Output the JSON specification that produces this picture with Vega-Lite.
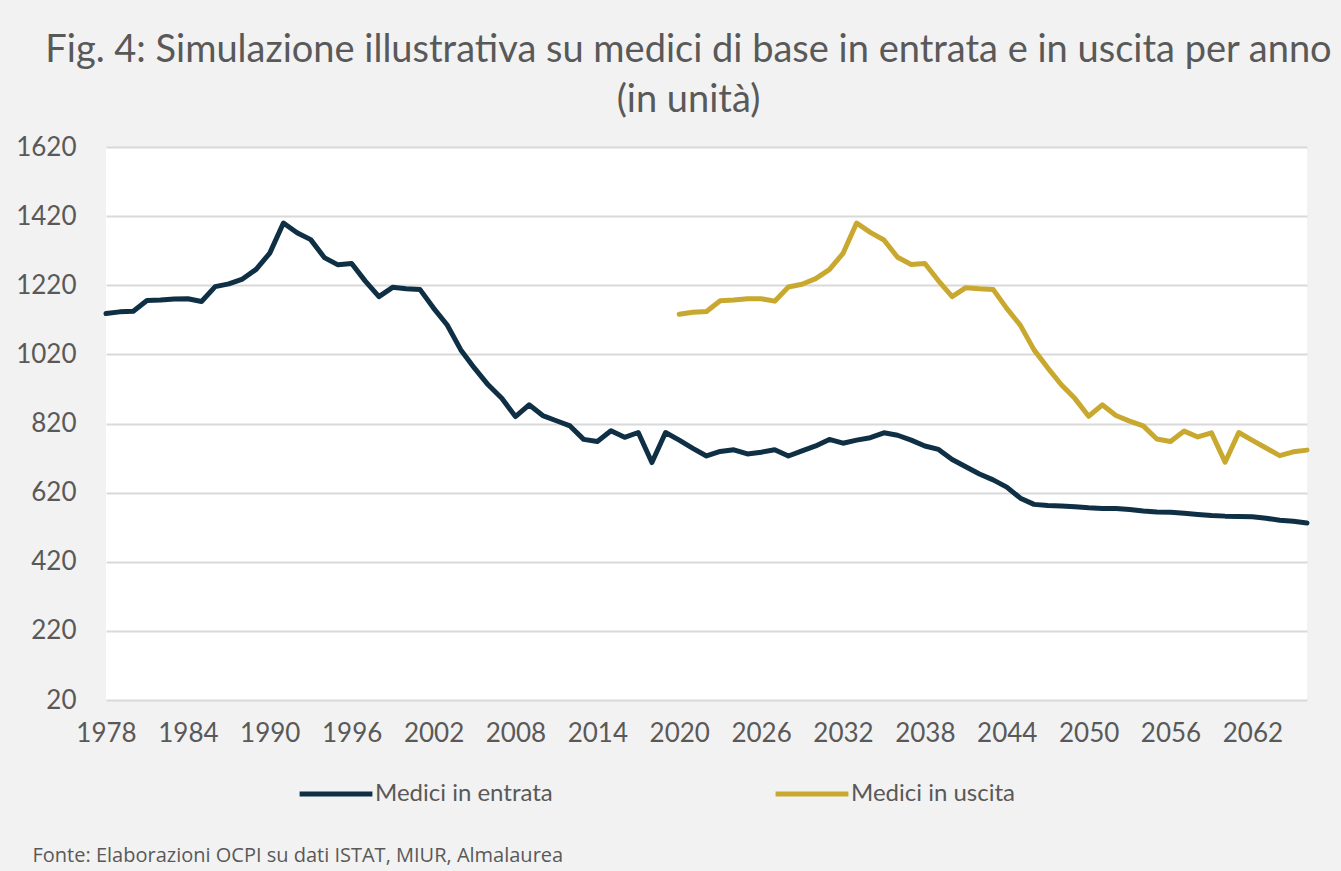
{
  "$schema": "https://vega.github.io/schema/vega-lite/v6.json",
  "width": 1201,
  "height": 553,
  "autosize": {"type": "none"},
  "padding": {"left": 106, "top": 147, "right": 34, "bottom": 171},
  "background": "#f2f2f2",
  "config": {
    "view": {"fill": "#ffffff", "stroke": null},
    "font": "Lato"
  },
  "title": {
    "text": "Fig. 4: Simulazione illustrativa su medici di base in entrata e in uscita per anno",
    "subtitle": "(in unità)",
    "anchor": "middle",
    "dx": -18,
    "offset": 14,
    "font": "Lato",
    "fontSize": 38,
    "fontWeight": "normal",
    "color": "#595959",
    "subtitleFont": "Lato",
    "subtitleFontSize": 38,
    "subtitleColor": "#595959",
    "subtitlePadding": 12
  },
  "datasets": {
    "rows": [
      {"year": 1978, "serie": "Medici in entrata", "value": 1138},
      {"year": 1979, "serie": "Medici in entrata", "value": 1143},
      {"year": 1980, "serie": "Medici in entrata", "value": 1145},
      {"year": 1981, "serie": "Medici in entrata", "value": 1176},
      {"year": 1982, "serie": "Medici in entrata", "value": 1177},
      {"year": 1983, "serie": "Medici in entrata", "value": 1180},
      {"year": 1984, "serie": "Medici in entrata", "value": 1181},
      {"year": 1985, "serie": "Medici in entrata", "value": 1173},
      {"year": 1986, "serie": "Medici in entrata", "value": 1216},
      {"year": 1987, "serie": "Medici in entrata", "value": 1224},
      {"year": 1988, "serie": "Medici in entrata", "value": 1238},
      {"year": 1989, "serie": "Medici in entrata", "value": 1266},
      {"year": 1990, "serie": "Medici in entrata", "value": 1313},
      {"year": 1991, "serie": "Medici in entrata", "value": 1400},
      {"year": 1992, "serie": "Medici in entrata", "value": 1372},
      {"year": 1993, "serie": "Medici in entrata", "value": 1352},
      {"year": 1994, "serie": "Medici in entrata", "value": 1300},
      {"year": 1995, "serie": "Medici in entrata", "value": 1279},
      {"year": 1996, "serie": "Medici in entrata", "value": 1283},
      {"year": 1997, "serie": "Medici in entrata", "value": 1232},
      {"year": 1998, "serie": "Medici in entrata", "value": 1187},
      {"year": 1999, "serie": "Medici in entrata", "value": 1214},
      {"year": 2000, "serie": "Medici in entrata", "value": 1210},
      {"year": 2001, "serie": "Medici in entrata", "value": 1208},
      {"year": 2002, "serie": "Medici in entrata", "value": 1154},
      {"year": 2003, "serie": "Medici in entrata", "value": 1105},
      {"year": 2004, "serie": "Medici in entrata", "value": 1033},
      {"year": 2005, "serie": "Medici in entrata", "value": 980},
      {"year": 2006, "serie": "Medici in entrata", "value": 932},
      {"year": 2007, "serie": "Medici in entrata", "value": 893},
      {"year": 2008, "serie": "Medici in entrata", "value": 840},
      {"year": 2009, "serie": "Medici in entrata", "value": 874},
      {"year": 2010, "serie": "Medici in entrata", "value": 843},
      {"year": 2011, "serie": "Medici in entrata", "value": 828},
      {"year": 2012, "serie": "Medici in entrata", "value": 813},
      {"year": 2013, "serie": "Medici in entrata", "value": 774},
      {"year": 2014, "serie": "Medici in entrata", "value": 768},
      {"year": 2015, "serie": "Medici in entrata", "value": 799},
      {"year": 2016, "serie": "Medici in entrata", "value": 780},
      {"year": 2017, "serie": "Medici in entrata", "value": 794},
      {"year": 2018, "serie": "Medici in entrata", "value": 707},
      {"year": 2019, "serie": "Medici in entrata", "value": 794},
      {"year": 2020, "serie": "Medici in entrata", "value": 772},
      {"year": 2021, "serie": "Medici in entrata", "value": 748},
      {"year": 2022, "serie": "Medici in entrata", "value": 726},
      {"year": 2023, "serie": "Medici in entrata", "value": 739},
      {"year": 2024, "serie": "Medici in entrata", "value": 744},
      {"year": 2025, "serie": "Medici in entrata", "value": 732},
      {"year": 2026, "serie": "Medici in entrata", "value": 737},
      {"year": 2027, "serie": "Medici in entrata", "value": 744},
      {"year": 2028, "serie": "Medici in entrata", "value": 726},
      {"year": 2029, "serie": "Medici in entrata", "value": 741},
      {"year": 2030, "serie": "Medici in entrata", "value": 755},
      {"year": 2031, "serie": "Medici in entrata", "value": 774},
      {"year": 2032, "serie": "Medici in entrata", "value": 763},
      {"year": 2033, "serie": "Medici in entrata", "value": 772},
      {"year": 2034, "serie": "Medici in entrata", "value": 779},
      {"year": 2035, "serie": "Medici in entrata", "value": 793},
      {"year": 2036, "serie": "Medici in entrata", "value": 786},
      {"year": 2037, "serie": "Medici in entrata", "value": 772},
      {"year": 2038, "serie": "Medici in entrata", "value": 755},
      {"year": 2039, "serie": "Medici in entrata", "value": 745},
      {"year": 2040, "serie": "Medici in entrata", "value": 716},
      {"year": 2041, "serie": "Medici in entrata", "value": 695},
      {"year": 2042, "serie": "Medici in entrata", "value": 674},
      {"year": 2043, "serie": "Medici in entrata", "value": 657},
      {"year": 2044, "serie": "Medici in entrata", "value": 636},
      {"year": 2045, "serie": "Medici in entrata", "value": 604},
      {"year": 2046, "serie": "Medici in entrata", "value": 586},
      {"year": 2047, "serie": "Medici in entrata", "value": 583},
      {"year": 2048, "serie": "Medici in entrata", "value": 581},
      {"year": 2049, "serie": "Medici in entrata", "value": 579},
      {"year": 2050, "serie": "Medici in entrata", "value": 576},
      {"year": 2051, "serie": "Medici in entrata", "value": 574},
      {"year": 2052, "serie": "Medici in entrata", "value": 574},
      {"year": 2053, "serie": "Medici in entrata", "value": 571},
      {"year": 2054, "serie": "Medici in entrata", "value": 567},
      {"year": 2055, "serie": "Medici in entrata", "value": 564},
      {"year": 2056, "serie": "Medici in entrata", "value": 563},
      {"year": 2057, "serie": "Medici in entrata", "value": 560},
      {"year": 2058, "serie": "Medici in entrata", "value": 557},
      {"year": 2059, "serie": "Medici in entrata", "value": 554},
      {"year": 2060, "serie": "Medici in entrata", "value": 552},
      {"year": 2061, "serie": "Medici in entrata", "value": 551},
      {"year": 2062, "serie": "Medici in entrata", "value": 550},
      {"year": 2063, "serie": "Medici in entrata", "value": 546},
      {"year": 2064, "serie": "Medici in entrata", "value": 540},
      {"year": 2065, "serie": "Medici in entrata", "value": 537},
      {"year": 2066, "serie": "Medici in entrata", "value": 532},
      {"year": 2020, "serie": "Medici in uscita", "value": 1136},
      {"year": 2021, "serie": "Medici in uscita", "value": 1142},
      {"year": 2022, "serie": "Medici in uscita", "value": 1144},
      {"year": 2023, "serie": "Medici in uscita", "value": 1175},
      {"year": 2024, "serie": "Medici in uscita", "value": 1177},
      {"year": 2025, "serie": "Medici in uscita", "value": 1181},
      {"year": 2026, "serie": "Medici in uscita", "value": 1181},
      {"year": 2027, "serie": "Medici in uscita", "value": 1174},
      {"year": 2028, "serie": "Medici in uscita", "value": 1215},
      {"year": 2029, "serie": "Medici in uscita", "value": 1223},
      {"year": 2030, "serie": "Medici in uscita", "value": 1239},
      {"year": 2031, "serie": "Medici in uscita", "value": 1265},
      {"year": 2032, "serie": "Medici in uscita", "value": 1312},
      {"year": 2033, "serie": "Medici in uscita", "value": 1400},
      {"year": 2034, "serie": "Medici in uscita", "value": 1373},
      {"year": 2035, "serie": "Medici in uscita", "value": 1351},
      {"year": 2036, "serie": "Medici in uscita", "value": 1301},
      {"year": 2037, "serie": "Medici in uscita", "value": 1280},
      {"year": 2038, "serie": "Medici in uscita", "value": 1283},
      {"year": 2039, "serie": "Medici in uscita", "value": 1233},
      {"year": 2040, "serie": "Medici in uscita", "value": 1187},
      {"year": 2041, "serie": "Medici in uscita", "value": 1213},
      {"year": 2042, "serie": "Medici in uscita", "value": 1210},
      {"year": 2043, "serie": "Medici in uscita", "value": 1208},
      {"year": 2044, "serie": "Medici in uscita", "value": 1153},
      {"year": 2045, "serie": "Medici in uscita", "value": 1104},
      {"year": 2046, "serie": "Medici in uscita", "value": 1033},
      {"year": 2047, "serie": "Medici in uscita", "value": 981},
      {"year": 2048, "serie": "Medici in uscita", "value": 932},
      {"year": 2049, "serie": "Medici in uscita", "value": 892},
      {"year": 2050, "serie": "Medici in uscita", "value": 841},
      {"year": 2051, "serie": "Medici in uscita", "value": 874},
      {"year": 2052, "serie": "Medici in uscita", "value": 843},
      {"year": 2053, "serie": "Medici in uscita", "value": 827},
      {"year": 2054, "serie": "Medici in uscita", "value": 813},
      {"year": 2055, "serie": "Medici in uscita", "value": 775},
      {"year": 2056, "serie": "Medici in uscita", "value": 768},
      {"year": 2057, "serie": "Medici in uscita", "value": 798},
      {"year": 2058, "serie": "Medici in uscita", "value": 781},
      {"year": 2059, "serie": "Medici in uscita", "value": 793},
      {"year": 2060, "serie": "Medici in uscita", "value": 708},
      {"year": 2061, "serie": "Medici in uscita", "value": 794},
      {"year": 2062, "serie": "Medici in uscita", "value": 771},
      {"year": 2063, "serie": "Medici in uscita", "value": 749},
      {"year": 2064, "serie": "Medici in uscita", "value": 727},
      {"year": 2065, "serie": "Medici in uscita", "value": 738},
      {"year": 2066, "serie": "Medici in uscita", "value": 743}
    ]
  },
  "data": {"name": "rows"},
  "mark": {"type": "line", "strokeWidth": 5, "strokeJoin": "round", "strokeCap": "round"},
  "encoding": {
    "x": {
      "field": "year",
      "type": "quantitative",
      "scale": {"domain": [1978, 2066], "nice": false, "zero": false},
      "axis": {
        "values": [1978, 1984, 1990, 1996, 2002, 2008, 2014, 2020, 2026, 2032, 2038, 2044, 2050, 2056, 2062],
        "format": "d",
        "grid": false,
        "domain": false,
        "ticks": false,
        "labelPadding": 20,
        "labelFont": "Lato",
        "labelFontSize": 26,
        "labelColor": "#595959",
        "labelFlush": false,
        "labelOverlap": false,
        "title": "Fonte: Elaborazioni OCPI su dati ISTAT, MIUR, Almalaurea",
        "titleAnchor": "start",
        "titleAlign": "left",
        "titleBaseline": "alphabetic",
        "titleX": -74,
        "titleY": 161,
        "titleFont": "Open Sans",
        "titleFontSize": 20,
        "titleFontWeight": "normal",
        "titleColor": "#595959"
      }
    },
    "y": {
      "field": "value",
      "type": "quantitative",
      "scale": {"domain": [20, 1620], "nice": false, "zero": false},
      "axis": {
        "values": [20, 220, 420, 620, 820, 1020, 1220, 1420, 1620],
        "format": "d",
        "grid": true,
        "gridColor": "#d9d9d9",
        "gridWidth": 2,
        "domain": false,
        "ticks": false,
        "labelPadding": 30,
        "labelFont": "Lato",
        "labelFontSize": 26,
        "labelColor": "#595959",
        "title": null
      }
    },
    "color": {
      "field": "serie",
      "type": "nominal",
      "scale": {"domain": ["Medici in entrata", "Medici in uscita"], "range": ["#0f2f45", "#c9a82f"]},
      "legend": {
        "orient": "none",
        "legendX": 191,
        "legendY": 608,
        "direction": "horizontal",
        "title": null,
        "symbolType": "stroke",
        "symbolSize": 5300,
        "symbolStrokeWidth": 5,
        "labelFont": "Lato",
        "labelFontSize": 24,
        "labelLimit": 0,
        "labelColor": "#595959",
        "labelOffset": 0,
        "columnPadding": 212
      }
    }
  }
}
